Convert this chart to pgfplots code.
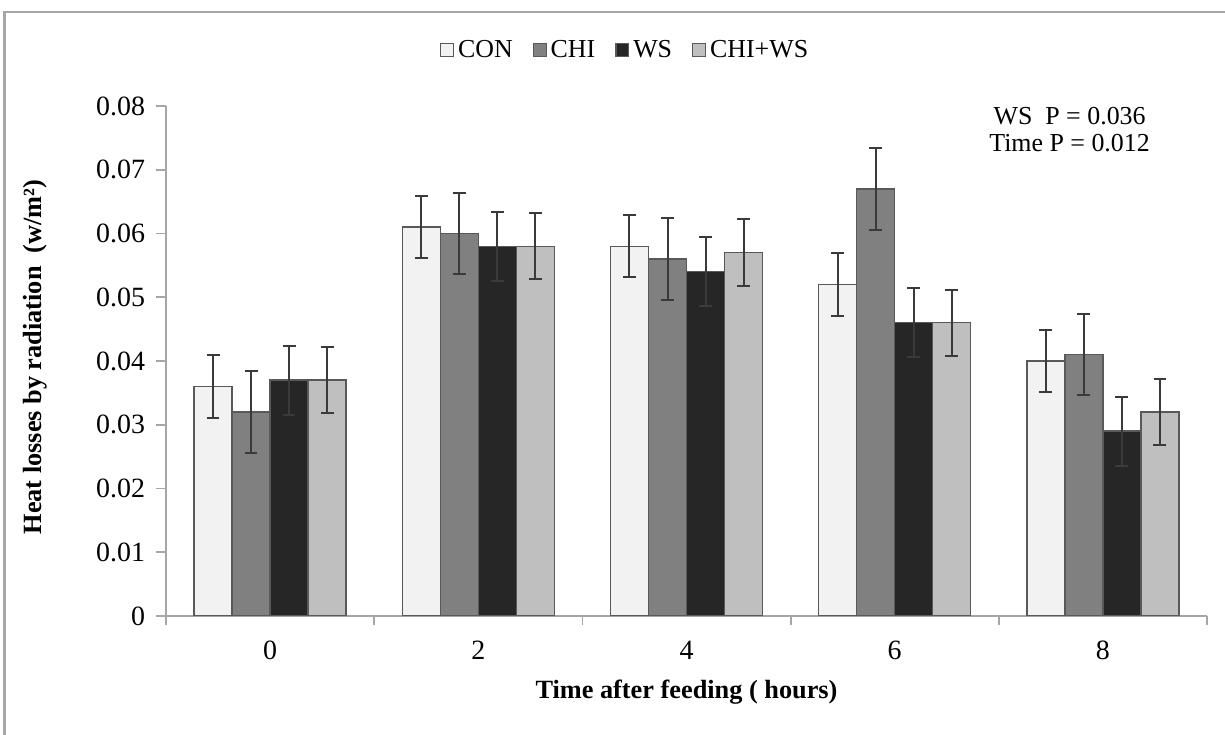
\documentclass[border=0pt]{standalone}
\usepackage{pgfplots}
\pgfplotsset{compat=1.18}
\usepackage{pgfplotstable}
\usepackage{fontspec}
\setmainfont{Liberation Serif}
\definecolor{conc}{HTML}{F2F2F2}
\definecolor{chic}{HTML}{808080}
\definecolor{wsc}{HTML}{262626}
\definecolor{cwc}{HTML}{BFBFBF}
\definecolor{edge}{HTML}{595959}
\definecolor{axc}{HTML}{A6A6A6}
\definecolor{ebc}{HTML}{3A3A3A}

\pgfplotstableread{
x CON CONe CHI CHIe WS WSe CW CWe
0 0.036 0.0049 0.032 0.0064 0.037 0.0054 0.037 0.0052
1 0.061 0.0049 0.060 0.0064 0.058 0.0054 0.058 0.0052
2 0.058 0.0049 0.056 0.0064 0.054 0.0054 0.057 0.0052
3 0.052 0.0049 0.067 0.0064 0.046 0.0054 0.046 0.0052
4 0.040 0.0049 0.041 0.0064 0.029 0.0054 0.032 0.0052
}\data

\begin{document}
\begin{tikzpicture}
\useasboundingbox (0,0) rectangle (612.5bp,367.5bp);
\draw[axc, line width=1.2bp] (2.2bp,-3bp) -- (2.2bp,361.5bp) -- (616bp,361.5bp);
\begin{axis}[
  at={(83bp,59.5bp)}, anchor=south west,
  scale only axis, width=520.5bp, height=255bp,
  ybar=0pt, bar width=19bp,
  xmin=-0.5, xmax=4.5, ymin=0, ymax=0.08,
  enlargelimits=false,
  scaled y ticks=false,
  xtick={0,1,2,3,4}, xticklabels={0,2,4,6,8},
  minor xtick={-0.5,0.5,1.5,2.5,3.5,4.5},
  ytick={0,0.01,0.02,0.03,0.04,0.05,0.06,0.07,0.08},
  yticklabel style={xshift=-2bp, /pgf/number format/fixed, /pgf/number format/precision=2},
  /pgf/number format/assume math mode=true,
  axis x line*=bottom, axis y line*=left,
  axis line style={axc, line width=0.9bp, -},
  tick align=outside,
  major tick length=5bp, minor tick length=4.5bp,
  ytick style={axc, line width=0.9bp},
  minor x tick style={axc, line width=0.9bp},
  major x tick style={draw=none},
  tick label style={font=\fontsize{14}{16}\selectfont},
  xticklabel style={yshift=-4bp},
  xlabel={\textbf{Time after feeding ( hours)}},
  ylabel={\textbf{Heat losses by radiation\ \ (w/m²)}},
  xlabel style={at={(rel axis cs:0.5,-0.149)}, anchor=center, font=\fontsize{13.2}{15}\selectfont},
  ylabel style={at={(rel axis cs:-0.1258,0.508)}, anchor=center, font=\fontsize{13.2}{15}\selectfont},
  legend columns=4,
  legend style={at={(rel axis cs:0.442,1.110)}, anchor=center, draw=none, fill=none,
    font=\fontsize{13}{15}\selectfont,
    /tikz/every even column/.append style={column sep=8bp},
    /tikz/every odd column/.append style={column sep=0bp}},
  legend image code/.code={\draw[#1,draw=edge,line width=0.6bp] (0bp,-3.2bp) rectangle (6.4bp,3.2bp);},
  every axis plot/.append style={draw=edge, line width=0.7bp,
    /pgfplots/error bars/y dir=both, /pgfplots/error bars/y explicit,
    /pgfplots/error bars/error bar style={draw=ebc, line width=1bp},
    /pgfplots/error bars/error mark options={rotate=90, mark size=3.2bp, draw=ebc, line width=1bp}},
]
\addplot[fill=conc] table[x=x, y=CON, y error=CONe]{\data};
\addplot[fill=chic] table[x=x, y=CHI, y error=CHIe]{\data};
\addplot[fill=wsc] table[x=x, y=WS, y error=WSe]{\data};
\addplot[fill=cwc] table[x=x, y=CW, y error=CWe]{\data};
\legend{CON, CHI, WS, CHI+WS}
\node[align=center, font=\fontsize{13}{13.5}\selectfont] at (rel axis cs:0.868,0.953) {WS~~P = 0.036\\Time P = 0.012};
\end{axis}
\end{tikzpicture}
\end{document}
